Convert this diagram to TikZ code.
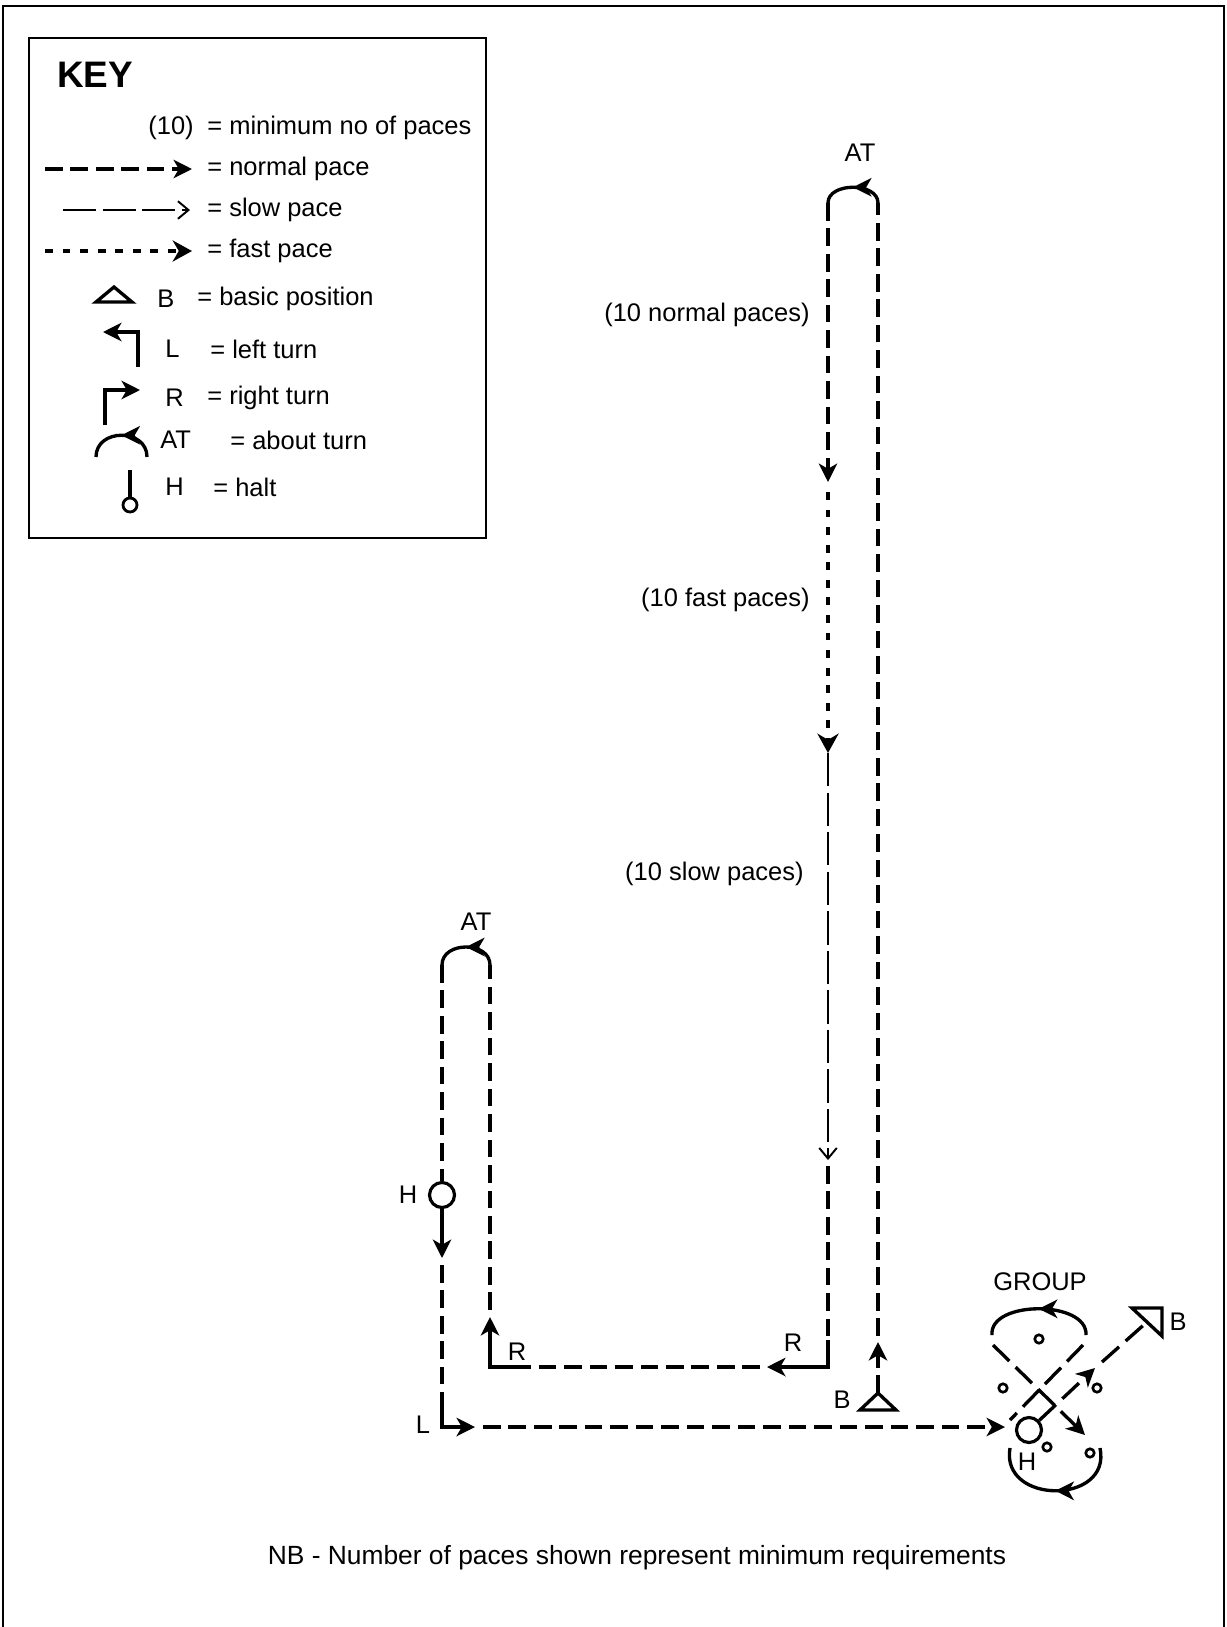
\documentclass[tikz,border=0pt]{standalone}
\usepackage{fontspec}
\setmainfont{Liberation Sans}
\usetikzlibrary{arrows.meta,decorations.markings}

\begin{document}
\begin{tikzpicture}[x=0.02cm, y=-0.02cm,
  every node/.style={font=\fontsize{14.5}{17}\selectfont, inner sep=0pt},
  tip/.style={-{Stealth[length=10.5pt,width=10.5pt,inset=3pt]}},
  bigtip/.style={-{Stealth[length=11pt,width=12pt,inset=3.5pt]}},
  thintip/.style={-{Straight Barb[length=6pt,width=10pt,line width=1.1pt]}},
  normalpace/.style={line width=1.8pt, dash pattern=on 10pt off 4.5pt},
  fastpace/.style={line width=2.5pt, dash pattern=on 4.5pt off 5.5pt},
  slowpace/.style={line width=1.1pt, dash pattern=on 19pt off 3.5pt},
  turnline/.style={line width=1.9pt},
  aboutturn/.style={turnline, postaction={decorate},
    decoration={markings, mark=at position 0.5 with {\arrow{Stealth[length=10.5pt,width=10.5pt,inset=3pt]}}}},
  basictri/.style={line width=1.9pt, line join=miter},
  halt/.style={circle, draw, line width=1.8pt, minimum size=0.5cm},
  person/.style={circle, draw, line width=1.5pt, minimum size=0.17cm},
]
\useasboundingbox (0,0) rectangle (1227,1627);
\draw[line width=1.3pt] (3,1627) -- (3,6) -- (1224,6) -- (1224,1627);

% key
\draw[line width=1.1pt] (29,38) rectangle (486,538);
\node[anchor=west, font=\fontsize{21}{24}\selectfont\bfseries] (keytitle) at (57,75) {KEY};
\node[anchor=west] (kten) at (148,128) {(10)};
\node[anchor=west] (ktentxt) at (207,128) {= minimum no of paces};
\draw[normalpace, tip] (45,169) -- (192,169);
\node[anchor=west] (knormal) at (207,169) {= normal pace};
\draw[slowpace, thintip] (63,210) -- (190,210);
\node[anchor=west] (kslow) at (207,210) {= slow pace};
\draw[fastpace, bigtip] (45,251) -- (192,251);
\node[anchor=west] (kfast) at (207,251) {= fast pace};
\draw[basictri] (96,302) -- (132,302) -- (114,287) -- cycle;
\node[anchor=west] (kb) at (157,299) {B};
\node[anchor=west] (kbtxt) at (197,299) {= basic position};
\draw[turnline, tip] (138,367) -- (138,332) -- (103,332);
\node[anchor=west] (kl) at (165,349) {L};
\node[anchor=west] (kltxt) at (210,349) {= left turn};
\draw[turnline, tip] (105,425) -- (105,390) -- (140,390);
\node[anchor=west] (kr) at (165,398) {R};
\node[anchor=west] (krtxt) at (207,398) {= right turn};
\draw[aboutturn] (147,457) .. controls (147,428) and (96,428) .. (96,457);
\node[anchor=west] (kat) at (160,440) {AT};
\node[anchor=west] (kattxt) at (230,440) {= about turn};
\node[halt, minimum size=0.28cm, line width=1.6pt] (khalt) at (130,505) {};
\draw[turnline] (130,470) -- (khalt);
\node[anchor=west] (kh) at (165,487) {H};
\node[anchor=west] (khtxt) at (213,487) {= halt};

% route
\draw[basictri] (860,1410) -- (896,1410) -- (878,1393) -- cycle;
\node (bstart) at (842,1400) {B};
\draw[normalpace, tip] (878,1393) -- (878,1342);
\draw[normalpace] (878,1336) -- (878,203);
\draw[aboutturn] (878,203) .. controls (878,182) and (828,182) .. (828,203);
\node (attop) at (860,153) {AT};
\draw[normalpace, tip] (828,203) -- (828,482);
\node[anchor=east] (lnormal) at (810,315) {(10 normal paces)};
\draw[fastpace, bigtip] (828,492) -- (828,753);
\node[anchor=east] (lfast) at (810,600) {(10 fast paces)};
\draw[slowpace, thintip] (828,753) -- (828,1160);
\node[anchor=east] (lslow) at (804,874) {(10 slow paces)};
\draw[normalpace] (828,1166) -- (828,1340);
\draw[turnline, tip] (828,1340) -- (828,1367) -- (767,1367);
\node (rright) at (793,1343) {R};
\draw[normalpace] (760,1367) -- (525,1367);
\draw[turnline, tip] (525,1367) -- (490,1367) -- (490,1317);
\node (rleft) at (517,1352) {R};
\draw[normalpace] (490,1310) -- (490,965);
\draw[aboutturn] (490,965) .. controls (490,941) and (442,941) .. (442,965);
\node (atleft) at (476,922) {AT};
\node[halt] (hleft) at (442,1195) {};
\node (hlabel) at (408,1195) {H};
\draw[normalpace] (442,965) -- (hleft);
\draw[turnline, tip] (hleft) -- (442,1258);
\draw[normalpace] (442,1265) -- (442,1400);
\draw[turnline, tip] (442,1400) -- (442,1427) -- (475,1427);
\node (llabel) at (423,1425) {L};
\draw[normalpace, tip] (483,1427) -- (1005,1427);

% group
\node (group) at (1040,1282) {GROUP};
\draw[aboutturn] (1086,1335) .. controls (1088,1300) and (989,1300) .. (992,1335);
\draw[turnline, dash pattern=on 13pt off 5pt, tip] (993,1345) -- (1085,1435);
\draw[turnline, dash pattern=on 13pt off 5pt] (1083,1345) -- (1010,1420);
\draw[aboutturn] (1100,1448) .. controls (1112,1505) and (1000,1505) .. (1010,1448);
\node[person] (pa) at (1039,1339) {};
\node[person] (pb) at (1003,1388) {};
\node[person] (pc) at (1097,1388) {};
\node[person] (pd) at (1047,1447) {};
\node[person] (pe) at (1090,1453) {};
\node[halt] (hgroup) at (1029,1430) {};
\node (hglabel) at (1027,1462) {H};
\draw[turnline, dash pattern=on 13pt off 5pt, tip] (hgroup) -- (1095,1368);
\draw[turnline, dash pattern=on 13pt off 5pt] (1102,1362) -- (1147,1322);
\draw[basictri] (1132,1308) -- (1162,1308) -- (1162,1336) -- cycle;
\node (bend) at (1178,1322) {B};

\node[font=\fontsize{15}{18}\selectfont] (nb) at (637,1558) {NB - Number of paces shown represent minimum requirements};
\end{tikzpicture}
\end{document}
